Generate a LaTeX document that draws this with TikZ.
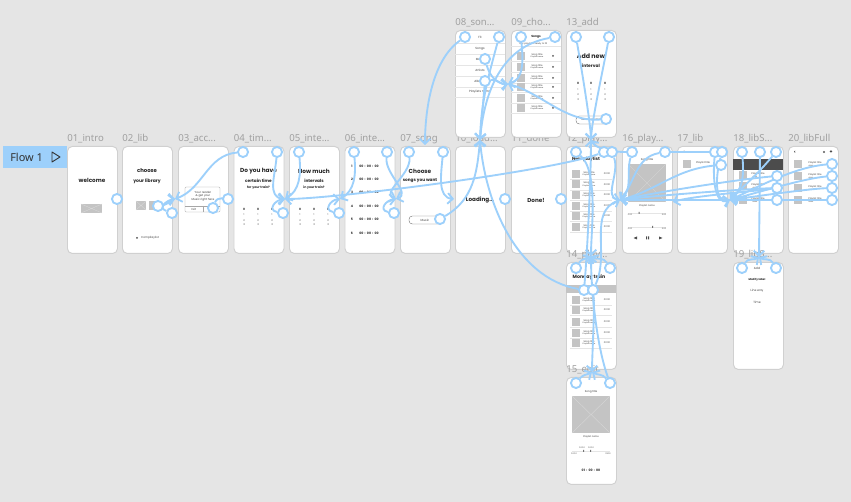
\documentclass[tikz,border=0pt]{standalone}
\usepackage{fontspec}
\usetikzlibrary{arrows.meta}
\setmainfont{Noto Sans}
\newfontfamily\cntfont{Poppins}
\definecolor{bgc}{HTML}{E5E5E5}
\definecolor{linkc}{HTML}{9DD0FB}
\definecolor{labc}{HTML}{A0A0A0}
\definecolor{phc}{HTML}{C4C4C4}
\definecolor{edgec}{HTML}{D0D0D0}
\pgfdeclarelayer{hotlayer}
\pgfsetlayers{main,hotlayer}
\newcounter{tn}
\newcommand{\txt}[4]{\stepcounter{tn}\node[tx=#1] (txt\arabic{tn}) at (#2,#3) {#4};}
\newcommand{\btxt}[4]{\stepcounter{tn}\node[tx=#1,text=black!85] (txt\arabic{tn}) at (#2,#3) {\bfseries #4};}
\newcommand{\scr}[4]{\node[screen] (s#1) at (#2,#3) {};\node[lab] (l#1) at (#2,#3-4.5) {#4};}
\newcommand{\ph}[5]{\stepcounter{tn}\node[phbox,minimum width=#3*0.75pt,minimum height=#4*0.75pt,#5] (ph\arabic{tn}) at (#1,#2) {};}
\newcommand{\hotn}[3]{\begin{pgfonlayer}{hotlayer}\node[hot] (#1) at (#2,#3) {};\end{pgfonlayer}}
\tikzset{
  x=0.75pt,y=-0.75pt,
  screen/.style={draw=edgec,fill=white,rounded corners=3.6pt,line width=0.7pt,minimum width=37.5pt,minimum height=80.25pt,anchor=north west,inner sep=0},
  lab/.style={text=labc,anchor=base west,inner sep=0,font=\fontsize{7.2}{8}\selectfont},
  tx/.style={/utils/exec={\pgfmathsetmacro\fs{#1*1.18}},font=\fontsize{\fs}{\fs}\selectfont\cntfont,inner sep=0,text=black!75},
  phbox/.style={fill=phc,inner sep=0,anchor=center},
  rule/.style={draw=black!10,line width=0.25pt},
  hot/.style={circle,draw=linkc,fill=white,line width=1.4pt,minimum size=7.6pt,inner sep=0},
  flowlink/.style={draw=linkc,line width=1.4pt,-{Straight Barb[length=3.8pt,width=8pt]}},
  plainlink/.style={draw=linkc,line width=1.4pt},
  cross/.style={draw=white!85!black,line width=0.25pt},
}
\begin{document}
\begin{tikzpicture}
\useasboundingbox[fill=bgc] (0,0) rectangle (851,502);
% flow tag
\node[fill=linkc,minimum width=48pt,minimum height=16.5pt,inner sep=0,anchor=north west] (flowtag) at (3,146) {};
\node[inner sep=0,anchor=west,text=black!80,font=\fontsize{8.2}{9}\selectfont] (flowtext) at (10,157) {Flow 1};
\draw[black!80,line width=0.7pt,line join=round] (52,152) -- (60,157) -- (52,162) -- cycle;
% screens
\scr{01}{67}{146}{01\_intro}
\scr{02}{122}{146}{02\_lib}
\scr{03}{178}{146}{03\_acc...}
\scr{04}{233.5}{146}{04\_tim...}
\scr{05}{289}{146}{05\_inte...}
\scr{06}{344.5}{146}{06\_inte...}
\scr{07}{400}{146}{07\_song}
\scr{10}{455}{146}{10\_load...}
\scr{11}{511}{146}{11\_done}
\scr{12}{566}{146}{12\_play...}
\scr{16}{622}{146}{16\_play...}
\scr{17}{677}{146}{17\_lib}
\scr{18}{733}{146}{18\_libS...}
\scr{20}{788}{146}{20\_libFull}
\scr{08}{455}{30}{08\_son...}
\scr{09}{511}{30}{09\_cho...}
\scr{13}{566}{30}{13\_add}
\scr{14}{566}{262}{14\_play...}
\scr{15}{566}{377}{15\_edit}
\scr{19}{733}{262}{19\_libS...}
% 01
\btxt{3.6}{92}{180}{welcome}
\ph{91.5}{208.5}{21}{9}{}
\draw[cross] (81,204) -- (102,213) (81,213) -- (102,204);
% 02
\btxt{3.4}{147}{171}{choose}
\btxt{2.9}{147}{181}{your library}
\ph{141}{205.5}{10}{9}{}
\ph{154}{205.5}{10}{9}{}
\draw[cross] (136,201) -- (146,210) (136,210) -- (146,201);
\fill[black!70] (137,238) circle (1);
\txt{1.8}{150}{238}{Compilaylist}
% 03
\draw[black!35,line width=0.25pt,rounded corners=0.8pt] (185,187) rectangle (220,212);
\draw[black!35,line width=0.25pt] (185,206) -- (220,206) (203,206) -- (203,212);
\txt{1.8}{203}{192}{Your reader}
\txt{1.8}{203}{196}{\&\ get your}
\txt{1.8}{203}{200}{Music right here}
\txt{1.8}{194}{209}{Exit}
\txt{1.8}{212}{209}{Allow}
% 04 05
\btxt{3.7}{258.5}{171}{Do you have}
\btxt{2.7}{258.5}{181}{certain time}
\btxt{2}{258.5}{188}{for your train?}
\btxt{3.7}{314}{171}{How much}
\btxt{2.7}{314}{181}{intervals}
\btxt{2}{314}{188}{in your train?}
\foreach \xa in {244,258,272,300,314,328}{
  \btxt{1.9}{\xa}{209}{0}
  \txt{1.6}{\xa}{215}{1}
  \txt{1.6}{\xa}{221}{2}
  \txt{1.6}{\xa}{225}{3}
}
% 06
\foreach \yy/\numb in {166/1,179/2,192/3,206/4,219/5,233/6}{
  \btxt{2}{352}{\yy}{\numb}
  \btxt{2}{369}{\yy}{00\ \ :\ \ 00\ \ :\ \ 00}
}
% 07
\btxt{3.7}{420}{171}{Choose}
\btxt{2.7}{420}{181}{songs you want}
\draw[black!55,line width=0.3pt,rounded corners=2.5pt] (409,216) rectangle (443,224);
\txt{1.9}{425}{220}{Music}
% 10 11
\btxt{3.6}{480}{200}{Loading...}
\btxt{3.6}{536}{200}{Done!}
% 08
\foreach \yy/\lbl in {37/Fit,49/Songs,59/Mood,70/Artists,81/Albums,92/Playlists name}{
  \txt{1.9}{480}{\yy}{\lbl}
}
\foreach \yy in {43,54,65,76,87,97}{\draw[rule] (455,\yy) -- (505,\yy);}
% 09
\btxt{1.9}{536}{37}{Songs}
\txt{1.4}{533}{44}{Your playlist is ready to fill}
\draw[rule] (511,46) -- (561,46);
\foreach \yy in {56,67,78,87,98,108}{
  \ph{521}{\yy}{8}{8}{}
  \txt{1.5}{537}{\yy-1.5}{Song title}
  \txt{1.2}{537}{\yy+1.5}{Playlist name}
  \fill[black!65] (553,\yy) circle (1);
  \draw[rule] (511,\yy+5.5) -- (561,\yy+5.5);
}
% 13
\btxt{4}{591}{56}{Add new}
\btxt{2.8}{591}{66}{interval}
\foreach \xa in {578,591,605}{
  \btxt{1.9}{\xa}{83}{0}
  \txt{1.6}{\xa}{90}{1}
  \txt{1.6}{\xa}{95}{2}
  \txt{1.6}{\xa}{100}{3}
}
\draw[black!55,line width=0.3pt,rounded corners=2.5pt] (576,116) rectangle (608,124);
\txt{1.6}{591}{120}{Music Selection}
% 12
\btxt{2.8}{586}{159}{New playlist}
\foreach \yy in {174,184.5,195,206,216,227}{
  \ph{576}{\yy}{8}{8}{}
  \txt{1.5}{589}{\yy-1.5}{Song title}
  \txt{1.2}{589}{\yy+1.5}{Playlist name}
  \txt{1.5}{607}{\yy}{00:00}
  \draw[rule] (570,\yy+5.2) -- (612,\yy+5.2);
}
% 14
\btxt{3}{589}{277}{Monday train}
\fill[phc] (566,285) rectangle (616,293.5);
\foreach \yy in {300,310,322,333,343}{
  \ph{576}{\yy}{8}{8}{}
  \txt{1.5}{589}{\yy-1.5}{Song title}
  \txt{1.2}{589}{\yy+1.5}{Playlist name}
  \txt{1.5}{607}{\yy}{00:00}
  \draw[rule] (570,\yy+5.2) -- (612,\yy+5.2);
}
% 15
\txt{1.7}{591}{392}{Song title}
\ph{591}{414.5}{38}{37}{}
\draw[cross] (572,396) -- (610,433) (572,433) -- (610,396);
\txt{1.5}{591}{437}{Playlist name}
\txt{1.3}{582}{448}{00:00}
\txt{1.3}{591}{448}{00:00}
\draw[rule] (572,451) -- (610,451);
\fill[black!55] (583,450) rectangle (584,452) (590,450) rectangle (591,452);
\txt{1.3}{574}{453.5}{00:00}
\txt{1.3}{608}{453.5}{03:00}
\btxt{2}{591}{470}{01\ \ :\ \ 00\ \ :\ \ 00}
% 16
\txt{1.7}{647}{160}{Song title}
\ph{647}{183}{38}{38}{}
\draw[cross] (628,164) -- (666,202) (628,202) -- (666,164);
\txt{1.5}{647}{206}{Playlist name}
\draw[rule] (628,213) -- (666,213) (628,227) -- (666,227);
\fill[black!55] (638.5,212) rectangle (639.5,214) (652,226) rectangle (653,228);
\txt{1.3}{630}{215}{0:00}
\txt{1.3}{664}{215}{3:00}
\txt{1.3}{630}{229}{0:00}
\txt{1.3}{664}{229}{3:00}
\fill[black!70] (633.5,238) -- (637,236.5) -- (637,239.5) -- cycle;
\fill[black!70] (646,236.5) rectangle (647,239.5) (648.2,236.5) rectangle (649.2,239.5);
\fill[black!70] (662.5,238) -- (659,236.5) -- (659,239.5) -- cycle;
% 17
\txt{2.6}{684}{152}{<}
\ph{687}{164.5}{8}{8}{}
\txt{1.6}{703}{163}{Playlist title}
% 18
\fill[black!70] (733,159.5) rectangle (783,170);
\foreach \yy in {175,186,200}{
  \ph{743}{\yy}{8}{8}{}
  \txt{1.5}{758}{\yy-1.5}{Playlist title}
  \txt{1.2}{755}{\yy+1.5}{Artist}
}
% 19
\txt{1.9}{757}{268}{Add}
\btxt{1.7}{757}{280}{Modify label}
\txt{1.9}{757}{291}{Line way}
\txt{1.9}{757}{302}{Time}
% 20
\btxt{2.4}{795}{152}{<}
\fill[black!65] (824,152) circle (1.2);
\btxt{3}{831}{152}{+}
\foreach \yy in {164,176,188,200}{
  \ph{798}{\yy}{8}{8}{}
  \txt{1.5}{815}{\yy-1.5}{Playlist title}
  \txt{1.2}{811}{\yy+1.5}{Artist}
}
% targets
\coordinate (t02) at (121,199);
\coordinate (t03) at (175,199);
\coordinate (t04) at (232,199);
\coordinate (t05) at (285,199);
\coordinate (t06) at (340,199);
\coordinate (t07) at (396,199);
\coordinate (t07top) at (425,145);
\coordinate (t10) at (454,199);
\coordinate (t10top) at (480,140);
\coordinate (t09) at (508,84);
\coordinate (t11) at (510,199);
\coordinate (t12) at (565,199);
\coordinate (t12top) at (591,140);
\coordinate (t14top) at (591,256);
\coordinate (t15top) at (592,372);
\coordinate (t16) at (620,200);
\coordinate (t17) at (673,202);
\coordinate (t18) at (730,200);
\coordinate (t19) at (759,257);
% hotspots
\hotn{h01}{117}{199}
\hotn{h02a}{158}{206}
\hotn{h02b}{172}{213}
\hotn{h03a}{213}{208}
\hotn{h03b}{228}{199}
\hotn{h04a}{243}{152}
\hotn{h04b}{277}{152}
\hotn{h04c}{283}{213}
\hotn{h05a}{299}{152}
\hotn{h05b}{339}{213}
\hotn{h06a}{354}{152}
\hotn{h06b}{387}{152}
\hotn{h06c}{394}{213}
\hotn{h07a}{409}{152}
\hotn{h07b}{443}{152}
\hotn{h07c}{440}{219}
\hotn{h08a}{465}{37}
\hotn{h08b}{499}{37}
\hotn{h08c}{485}{59}
\hotn{h08d}{485}{81}
\hotn{h09a}{521}{37}
\hotn{h09b}{555}{37}
\hotn{h10}{505}{199}
\hotn{h11}{561}{199}
\hotn{h12a}{576}{152}
\hotn{h12b}{604}{152}
\hotn{h12c}{612}{152}
\hotn{h13a}{576}{37}
\hotn{h13b}{609}{37}
\hotn{h13c}{606}{119}
\hotn{h14a}{584}{290}
\hotn{h14b}{593}{290}
\hotn{h14c}{576}{268}
\hotn{h14d}{610}{268}
\hotn{h15a}{576}{383}
\hotn{h15b}{610}{383}
\hotn{h16a}{632}{152}
\hotn{h16b}{665}{152}
\hotn{h17a}{715}{152}
\hotn{h17b}{722}{152}
\hotn{h17c}{721}{165}
\hotn{h18a}{742}{152}
\hotn{h18b}{760}{152}
\hotn{h18c}{776}{152}
\hotn{h18d}{777}{176}
\hotn{h18e}{777}{188}
\hotn{h18f}{777}{200}
\hotn{h19a}{742}{268}
\hotn{h19b}{776}{268}
\hotn{h20a}{832}{164}
\hotn{h20b}{832}{176}
\hotn{h20c}{832}{188}
\hotn{h20d}{832}{200}
% connectors
\draw[plainlink] (h01) -- (t02);
\draw[flowlink] (h02a) to[out=10,in=180] (t03);
\draw[flowlink] (h02b) to[out=160,in=190,looseness=1.6] (t03);
\draw[flowlink] (h04a) to[out=185,in=20] (t03);
\draw[plainlink] (h03a) to[out=70,in=180] (t04);
\draw[plainlink] (h03b) -- (t04);
\draw[flowlink] (h04b) to[out=265,in=175,looseness=1.1] (t05);
\draw[flowlink] (h04c) to[out=170,in=185,looseness=1.7] (t05);
\draw[flowlink] (h05a) to[out=275,in=30] (t05);
\draw[flowlink] (h12b) to[out=200,in=0,looseness=0.4] (t05);
\draw[flowlink] (h05b) to[out=170,in=185,looseness=1.7] (t06);
\draw[flowlink] (h06a) to[out=275,in=30] (t06);
\draw[flowlink] (h06c) to[out=170,in=185,looseness=1.7] (t07);
\draw[flowlink] (h06b) to[out=265,in=20] (t07);
\draw[flowlink] (h07a) to[out=275,in=160] (t07);
\draw[flowlink] (h07b) to[out=265,in=175] (t10);
\draw[flowlink] (h07c) to[out=30,in=265] (t10top);
\draw[flowlink] (h08a) to[out=215,in=90,looseness=0.8] (t07top);
\draw[flowlink] (h08b) to[out=255,in=88] (t10top);
\draw[flowlink] (h08d) to[out=265,in=85] (t10top);
\draw[flowlink] (h09b) to[out=190,in=85] (t10top);
\draw[flowlink] (h08c) to[out=285,in=180] (t09);
\draw[flowlink] (h08d) to[out=10,in=190] (t09);
\draw[flowlink] (h09a) to[out=275,in=15] (t09);
\draw[flowlink] (h13c) to[out=185,in=345,looseness=0.9] (t09);
\draw[flowlink] (h13a) to[out=280,in=92,looseness=0.5] (t12top);
\draw[flowlink] (h13b) to[out=260,in=88,looseness=0.5] (t12top);
\draw[flowlink] (h16a) to[out=180,in=300,looseness=0.8] (t12top);
\draw[flowlink] (h14a) to[out=85,in=270,looseness=0.6] (t12top);
\draw[flowlink] (h14a) to[out=170,in=275,looseness=0.9] (t10top);
\draw[plainlink] (h10) -- (t11);
\draw[plainlink] (h11) -- (t12);
\draw[flowlink] (h12a) to[out=-40,in=90,looseness=0.6] (t14top);
\draw[flowlink] (h14c) to[out=60,in=215] (t14top);
\draw[flowlink] (h14d) to[out=120,in=325] (t14top);
\draw[flowlink] (h15b) to[out=110,in=270,looseness=0.7] (t14top);
\draw[flowlink] (h14b) to[out=275,in=90,looseness=0.5] (t15top);
\draw[flowlink] (h15a) to[out=50,in=210] (t15top);
\draw[flowlink] (h15b) to[out=130,in=330] (t15top);
\draw[flowlink] (h12c) to[out=-70,in=170] (t16);
\draw[flowlink] (h14b) to[out=65,in=200] (t16);
\draw[flowlink] (h16a) to[out=255,in=40] (t16);
\draw[flowlink] (h16b) to[out=190,in=50] (t16);
\draw[plainlink] (h17a) -- (h16b);
\draw[flowlink] (h17c) to[out=185,in=15] (t16);
\draw[flowlink] (h18d) to[out=185,in=12,looseness=0.6] (t16);
\draw[flowlink] (h18e) to[out=182,in=8,looseness=0.5] (t16);
\draw[flowlink] (h18f) -- (t16);
\draw[flowlink] (h18e) to[out=188,in=18,looseness=0.5] (t17);
\draw[flowlink] (h17a) to[out=265,in=200] (t18);
\draw[flowlink] (h17b) to[out=255,in=190] (t18);
\draw[flowlink] (h18a) to[out=275,in=40] (t18);
\draw[flowlink] (h18c) to[out=230,in=45] (t18);
\draw[flowlink] (h20a) to[out=185,in=25,looseness=0.8] (t18);
\draw[flowlink] (h20b) to[out=185,in=15,looseness=0.6] (t18);
\draw[flowlink] (h20c) to[out=182,in=8,looseness=0.5] (t18);
\draw[flowlink] (h20d) -- (t18);
\draw[flowlink] (h18b) -- (t19);
\draw[flowlink] (h19a) to[out=60,in=215] (t19);
\draw[flowlink] (h19b) to[out=120,in=325] (t19);
\end{tikzpicture}
\end{document}
